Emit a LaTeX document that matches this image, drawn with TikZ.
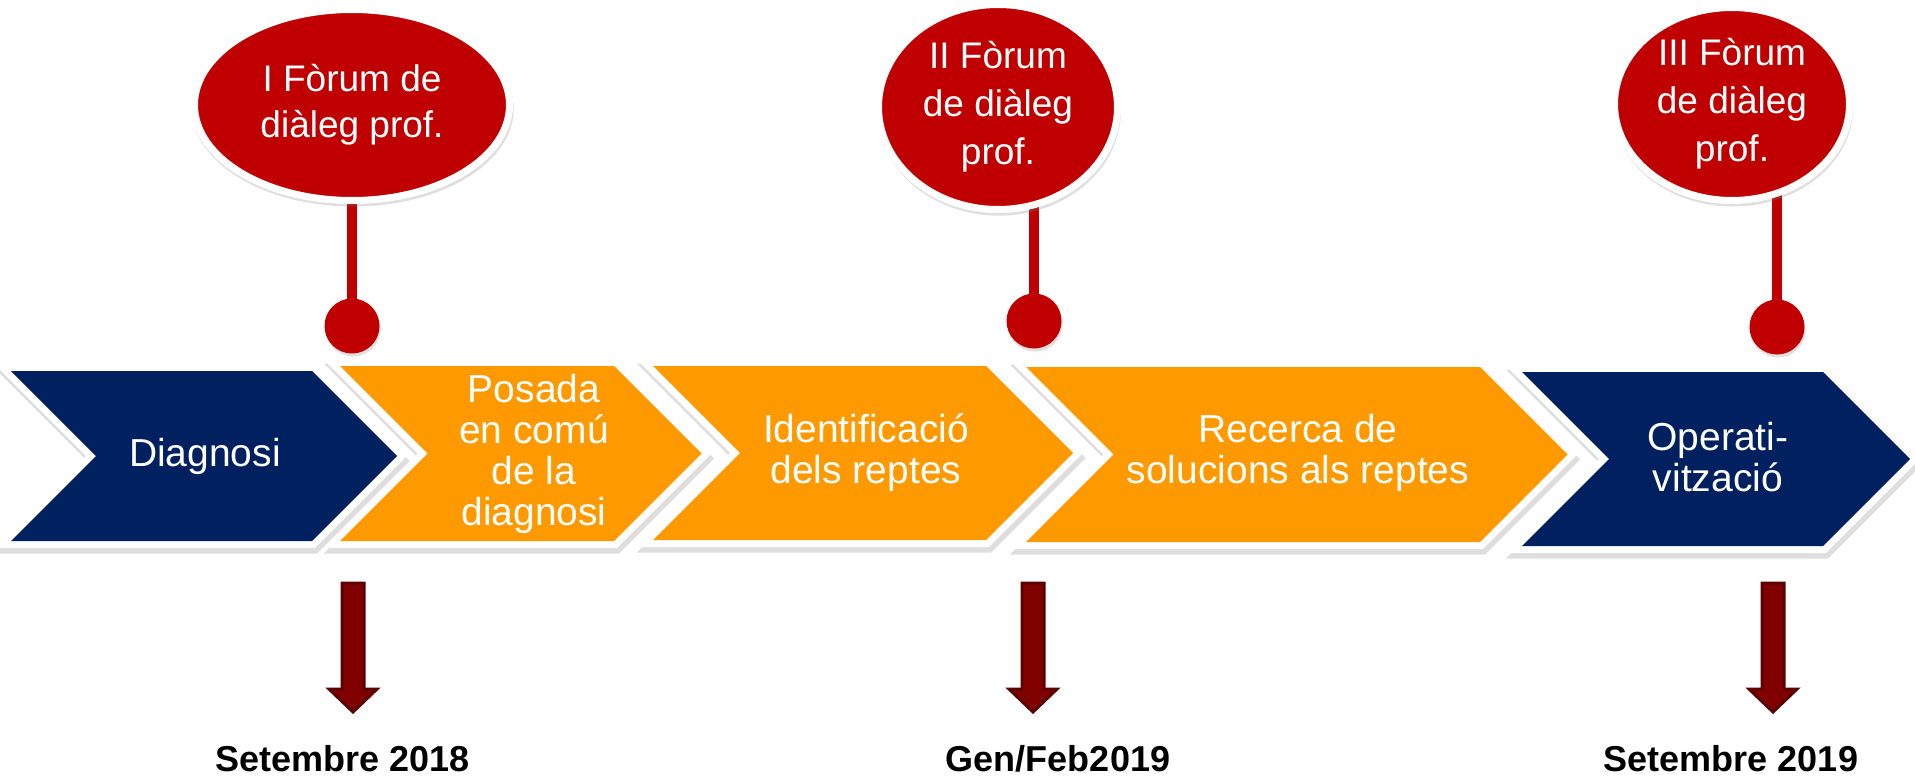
\documentclass[tikz,border=0pt]{standalone}
\usepackage{fontspec}
\setmainfont{Liberation Sans}
\usetikzlibrary{shapes.geometric,shadows}
\definecolor{navy}{RGB}{0,32,96}
\definecolor{orng}{RGB}{255,153,0}
\definecolor{fred}{RGB}{192,0,0}
\definecolor{arrfill}{RGB}{128,0,0}
\definecolor{arredge}{RGB}{92,0,0}
\pgfdeclarelayer{bg}
\pgfsetlayers{bg,main}
\newcommand{\mychevron}[5]{%
  \pgfmathsetmacro\chym{(#4+#5)/2}%
  \pgfmathsetmacro\chdd{(#5-#4)/2}%
  \begin{scope}[shift={(2,5)}]
    \draw[line width=15pt, line join=miter, draw=black, fill=black, opacity=0.13]
      (#2,#4) -- (#3,#4) -- (#3+\chdd,\chym) -- (#3,#5) -- (#2,#5) -- (#2+\chdd,\chym) -- cycle;
  \end{scope}
  \draw[line width=14pt, line join=miter, white]
      (#2,#4) -- (#3,#4) -- (#3+\chdd,\chym) -- (#3,#5) -- (#2,#5) -- (#2+\chdd,\chym) -- cycle;
  \fill[#1]
      (#2,#4) -- (#3,#4) -- (#3+\chdd,\chym) -- (#3,#5) -- (#2,#5) -- (#2+\chdd,\chym) -- cycle;
}
\newcommand{\myblockarrow}[1]{%
  \begin{scope}[shift={(#1)}]
    \draw[arrowbody] (-11,0) -- (11,0) -- (11,106) -- (24,106) -- (0,129) -- (-24,106) -- (-11,106) -- cycle;
  \end{scope}
}
\tikzset{
  ctext/.style={text=white, align=center, inner sep=0pt, font=\fontsize{39}{41}\selectfont},
  forum/.style={ellipse, fill=fred, draw=white, line width=7pt, inner sep=0pt,
     text=white, align=center, font=\fontsize{37}{46}\selectfont,
     drop shadow={shadow xshift=1pt, shadow yshift=-4pt, opacity=0.25, shadow scale=1.02}},
  forumthree/.style={forum, font=\fontsize{37}{48}\selectfont},
  dot/.style={circle, fill=fred, minimum size=55pt, inner sep=0pt,
     drop shadow={shadow xshift=1pt, shadow yshift=-3pt, opacity=0.25}},
  stem/.style={draw=fred, line width=10pt},
  arrowbody/.style={fill=arrfill, draw=arredge, line width=3pt, line join=miter},
  datelabel/.style={inner sep=0pt, font=\bfseries\fontsize{36}{40}\selectfont, text=black}
}
\begin{document}
\begin{tikzpicture}[x=1pt, y=-1pt]
\useasboundingbox (0,0) rectangle (1915,776);

% chevrons
\mychevron{navy}{11}{312}{371}{541}
\mychevron{orng}{340}{614}{366}{541}
\mychevron{orng}{653}{986}{366}{540}
\mychevron{orng}{1026}{1480}{367}{542}
\mychevron{navy}{1522}{1823}{372}{546}

\node[ctext] (t1) at (205,456) {Diagnosi};
\node[ctext] (t2) at (534,454) {Posada\\en comú\\de la\\diagnosi};
\node[ctext] (t3) at (866,453) {Identificació\\dels reptes};
\node[ctext] (t4) at (1298,453) {Recerca de\\solucions als reptes};
\node[ctext] (t5) at (1718,457) {Operati-\\vització};

% circles
\node[dot] (c1) at (352,326) {};
\node[dot] (c2) at (1034,321) {};
\node[dot] (c3) at (1777,327) {};

% forum ellipses
\node[forum, minimum width=315pt, minimum height=191pt] (f1) at (352,105) {I Fòrum de\\diàleg prof.};
\node[forumthree, minimum width=239pt, minimum height=205pt] (f2) at (998,107) {II Fòrum\\de diàleg\\prof.};
\node[forumthree, minimum width=235pt, minimum height=193pt] (f3) at (1732,104) {III Fòrum\\de diàleg\\prof.};

\begin{pgfonlayer}{bg}
\fill[white] (0,0) rectangle (1915,776);
\draw[stem] (c1.center) -- (c1.center |- f1.center);
\draw[stem] (c2.center) -- (c2.center |- f2.center);
\draw[stem] (c3.center) -- (c3.center |- f3.center);
\end{pgfonlayer}

% down arrows
\coordinate (a1) at (353,583);
\coordinate (a2) at (1033,583);
\coordinate (a3) at (1773,583);
\myblockarrow{a1}
\myblockarrow{a2}
\myblockarrow{a3}

% dates
\node[datelabel, anchor=base] (d1) at (343,771) {Setembre 2018};
\node[datelabel, anchor=base] (d2) at (1058,771) {Gen/Feb2019};
\node[datelabel, anchor=base] (d3) at (1731,771) {Setembre 2019};
\end{tikzpicture}
\end{document}
